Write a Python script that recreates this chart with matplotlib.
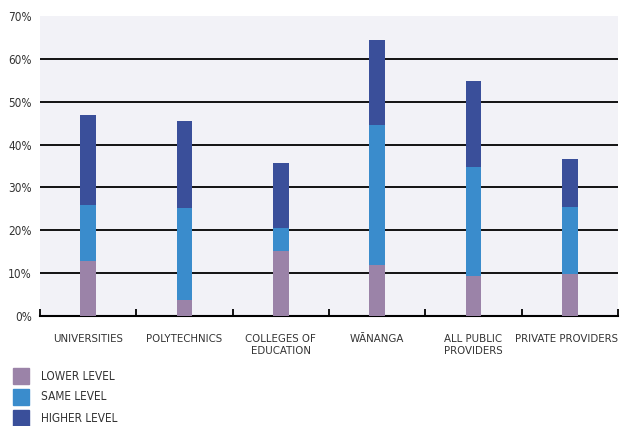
import matplotlib
matplotlib.use("Agg")
import matplotlib.pyplot as plt
from matplotlib.patches import Rectangle
from matplotlib.ticker import FuncFormatter
import numpy as np

categories = ["UNIVERSITIES", "POLYTECHNICS", "COLLEGES OF\nEDUCATION",
              "WĀNANGA", "ALL PUBLIC\nPROVIDERS", "PRIVATE PROVIDERS"]
lower_level = [12.8, 3.8, 15.1, 12.0, 9.3, 9.9]
same_level = [13.0, 21.3, 5.4, 32.5, 25.4, 15.6]
higher_level = [21.0, 20.4, 15.2, 19.8, 20.1, 11.2]

series_names = ["LOWER LEVEL", "SAME LEVEL", "HIGHER LEVEL"]
colors = ["#9b83a8", "#3a8ccc", "#3a4f9a"]

plt.rcParams["font.family"] = ["DejaVu Sans"]
plt.rcParams["font.stretch"] = "condensed"

fig = plt.figure(figsize=(6.21, 4.26), dpi=100)
ax = fig.add_axes([40 / 621, 1 - 316 / 426, 578 / 621, 300 / 426])
ax.set_facecolor("#f2f2f7")

x = np.arange(len(categories))
bottom = np.zeros(len(categories))
for vals, col in zip([lower_level, same_level, higher_level], colors):
    ax.bar(x, vals, width=0.165, bottom=bottom, color=col, zorder=3,
           edgecolor="none")
    bottom += np.array(vals)

ax.set_xlim(-0.5, len(categories) - 0.5)
ax.set_ylim(0, 70)
ax.set_yticks(range(0, 71, 10))
ax.yaxis.set_major_formatter(FuncFormatter(lambda v, p: f"{int(v)}%"))
for yv in range(10, 70, 10):
    ax.axhline(yv, color="black", linewidth=1.3, zorder=2)

for s in ["top", "right", "left"]:
    ax.spines[s].set_visible(False)
ax.spines["bottom"].set_linewidth(1.5)
ax.tick_params(axis="y", length=0, labelsize=8.5, labelcolor="#333333", pad=6)

# category boundary ticks on the baseline
ax.set_xticks(np.arange(-0.5, len(categories), 1.0))
ax.set_xticklabels([])
ax.tick_params(axis="x", direction="in", length=5, width=1.3)
for i, lab in enumerate(categories):
    if i == len(categories) - 1:
        # the last label is wide, keep it inside the figure
        ax.text(i + 0.5, -4.3, lab, ha="right", va="top", fontsize=8.2,
                color="#333333", linespacing=1.15)
    else:
        ax.text(i, -4.3, lab, ha="center", va="top", fontsize=8.2,
                color="#333333", linespacing=1.15)

# legend drawn as squares with labels below the plot
for k, (name, col) in enumerate(zip(series_names, colors)):
    y = 368 + k * 21
    fig.patches.append(Rectangle((13 / 621, 1 - (y + 16) / 426), 16 / 621, 16 / 426,
                                 transform=fig.transFigure, color=col))
    fig.text(41 / 621, 1 - (y + 8) / 426, name, va="center", ha="left",
             fontsize=8.5, color="#333333")

fig.savefig("out.png", dpi=100)
